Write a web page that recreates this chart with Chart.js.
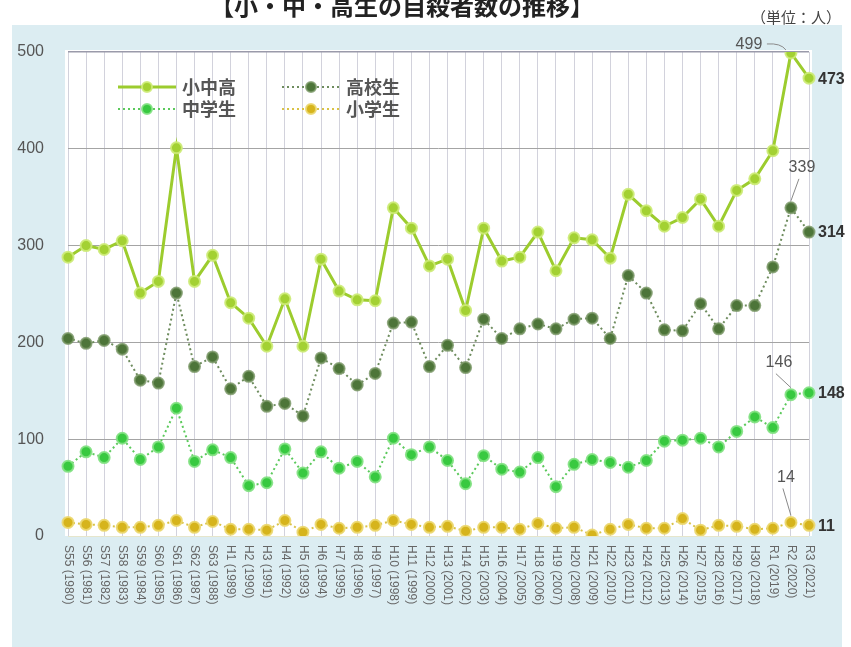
<!DOCTYPE html>
<html>
<head>
<meta charset="utf-8">
<script src="https://cdn.jsdelivr.net/npm/chart.js@4.4.1/dist/chart.umd.min.js"></script>
<style>
  html, body { margin: 0; padding: 0; background: #fff; }
  #wrap { position: relative; width: 851px; height: 647px; }
</style>
</head>
<body>
<div id="wrap"><canvas id="suicideChart" width="851" height="647"></canvas></div>
<script>
// 年度ラベル
const years = [
    'S55 (1980)', 'S56 (1981)', 'S57 (1982)', 'S58 (1983)', 'S59 (1984)', 'S60 (1985)', 'S61 (1986)', 'S62 (1987)', 'S63 (1988)',
    'H1 (1989)', 'H2 (1990)', 'H3 (1991)', 'H4 (1992)', 'H5 (1993)', 'H6 (1994)', 'H7 (1995)', 'H8 (1996)', 'H9 (1997)', 'H10 (1998)',
    'H11 (1999)', 'H12 (2000)', 'H13 (2001)', 'H14 (2002)', 'H15 (2003)', 'H16 (2004)', 'H17 (2005)', 'H18 (2006)', 'H19 (2007)', 'H20 (2008)',
    'H21 (2009)', 'H22 (2010)', 'H23 (2011)', 'H24 (2012)', 'H25 (2013)', 'H26 (2014)', 'H27 (2015)', 'H28 (2016)', 'H29 (2017)', 'H30 (2018)',
    'R1 (2019)', 'R2 (2020)', 'R3 (2021)'
];

// 小中高 合計
const totalValues = [288, 300, 296, 305, 251, 263, 401, 263, 290, 241, 225, 196, 245, 196, 286, 253, 244, 243, 339,
    318, 279, 286, 233, 318, 284, 288, 314, 274, 308, 306, 287, 353, 336, 320, 329, 348, 320, 357, 369, 398, 499, 473];
// 高校生
const highValues = [204, 199, 202, 193, 161, 158, 251, 175, 185, 152, 165, 134, 137, 124, 184, 173, 156, 168, 220,
    221, 175, 197, 174, 224, 204, 214, 219, 214, 224, 225, 204, 269, 251, 213, 212, 240, 214, 238, 238, 278, 339, 314];
// 中学生
const juniorValues = [72, 87, 81, 101, 79, 92, 132, 77, 89, 81, 52, 55, 90, 65, 87, 70, 77, 61, 101,
    84, 92, 78, 54, 83, 69, 66, 81, 51, 74, 79, 76, 71, 78, 98, 99, 101, 92, 108, 123, 112, 146, 148];
// 小学生
const elemValues = [14, 12, 11, 9, 9, 11, 16, 9, 15, 7, 7, 6, 16, 4, 12, 8, 9, 11, 16,
    12, 9, 10, 5, 9, 9, 7, 13, 8, 9, 1, 7, 12, 8, 8, 18, 6, 11, 10, 7, 8, 14, 11];

const yTicks = [0, 100, 200, 300, 400, 500];

const latin = '"Liberation Sans", Arial, sans-serif';
const cjk = '"Noto Sans CJK JP", sans-serif';

// 背景・タイトル・凡例・ラベル
const decorPlugin = {
    id: 'decor',
    beforeDraw(chart) {
        const { ctx, chartArea } = chart;
        ctx.save();
        ctx.fillStyle = '#dcedf2';
        ctx.fillRect(12, 25, 830, 622);
        ctx.fillStyle = '#ffffff';
        ctx.fillRect(chartArea.left - 3, chartArea.top - 2, chartArea.right - chartArea.left + 6, chartArea.bottom - chartArea.top + 2);
        ctx.restore();
    },
    afterDraw(chart) {
        const { ctx } = chart;
        const xScale = chart.scales.x;
        ctx.save();

        // title
        ctx.fillStyle = '#222';
        ctx.font = 'bold 24px ' + cjk;
        ctx.textAlign = 'center';
        ctx.textBaseline = 'middle';
        ctx.fillText('【小・中・高生の自殺者数の推移】', 402, 6);
        ctx.font = '15px ' + cjk;
        ctx.fillStyle = '#444';
        ctx.fillText('（単位：人）', 796, 17);

        // x labels, rotated clockwise
        ctx.font = '12px ' + latin;
        ctx.fillStyle = '#666';
        ctx.textAlign = 'left';
        years.forEach((lab, i) => {
            const x = xScale.getPixelForTick(i);
            ctx.save();
            ctx.translate(x, 545);
            ctx.rotate(Math.PI / 2);
            ctx.fillText(lab, 0, 0);
            ctx.restore();
        });

        // legend
        const items = [
            { ds: 0, text: '小中高', x: 118, y: 87 },
            { ds: 1, text: '高校生', x: 282, y: 87 },
            { ds: 2, text: '中学生', x: 118, y: 109 },
            { ds: 3, text: '小学生', x: 282, y: 109 }
        ];
        items.forEach(it => {
            const d = chart.data.datasets[it.ds];
            ctx.save();
            ctx.strokeStyle = d.borderColor;
            ctx.lineWidth = d.borderWidth;
            ctx.setLineDash(d.borderDash || []);
            ctx.beginPath();
            ctx.moveTo(it.x, it.y);
            ctx.lineTo(it.x + 58, it.y);
            ctx.stroke();
            ctx.setLineDash([]);
            ctx.beginPath();
            ctx.arc(it.x + 29, it.y, 5, 0, Math.PI * 2);
            ctx.fillStyle = d.pointBackgroundColor;
            ctx.fill();
            ctx.strokeStyle = d.pointBorderColor;
            ctx.lineWidth = 2;
            ctx.stroke();
            ctx.restore();
            ctx.font = 'bold 18px ' + cjk;
            ctx.fillStyle = '#555';
            ctx.textBaseline = 'middle';
            ctx.fillText(it.text, it.x + 64, it.y);
        });

        // value labels for R2 / R3
        const last = years.length - 1;
        const prev = last - 1;
        const callouts = [
            { ds: 0, dx: -42, dy: -8 },
            { ds: 1, dx: 11, dy: -40 },
            { ds: 2, dx: -12, dy: -32 },
            { ds: 3, dx: -5, dy: -45 }
        ];
        ctx.font = '16px ' + latin;
        ctx.textAlign = 'center';
        ctx.textBaseline = 'middle';
        callouts.forEach(c => {
            const pt = chart.getDatasetMeta(c.ds).data[prev];
            const tx = pt.x + c.dx, ty = pt.y + c.dy;
            ctx.fillStyle = '#555';
            ctx.fillText(String(chart.data.datasets[c.ds].data[prev]), tx, ty);
            ctx.strokeStyle = '#8a8a8a';
            ctx.lineWidth = 1;
            ctx.beginPath();
            if (c.ds === 0) {
                ctx.moveTo(tx + 18, ty - 1);
                ctx.quadraticCurveTo(pt.x - 10, ty - 2, pt.x - 5, pt.y - 3);
            } else {
                ctx.moveTo(tx - 3, ty + 11);
                ctx.lineTo(pt.x, pt.y - 7);
            }
            ctx.stroke();
        });
        ctx.font = 'bold 16px ' + latin;
        ctx.textAlign = 'left';
        ctx.fillStyle = '#333';
        [0, 1, 2, 3].forEach(ds => {
            const pt = chart.getDatasetMeta(ds).data[last];
            ctx.fillText(String(chart.data.datasets[ds].data[last]), pt.x + 9, pt.y + 1);
        });

        ctx.restore();
    }
};

new Chart(document.getElementById('suicideChart').getContext('2d'), {
    type: 'line',
    data: {
        labels: years,
        datasets: [
            {
                label: '小中高',
                data: totalValues,
                borderColor: '#9ccc2e',
                borderWidth: 3,
                pointBackgroundColor: '#a3d133',
                pointBorderColor: 'rgba(205,235,120,0.9)',
                pointBorderWidth: 2,
                pointRadius: 5.5,
                tension: 0
            },
            {
                label: '高校生',
                data: highValues,
                borderColor: '#6e8c5e',
                borderWidth: 2,
                borderDash: [2, 3],
                pointBackgroundColor: '#4d7539',
                pointBorderColor: 'rgba(120,150,100,0.8)',
                pointBorderWidth: 2,
                pointRadius: 5.5,
                tension: 0
            },
            {
                label: '中学生',
                data: juniorValues,
                borderColor: '#5bc95b',
                borderWidth: 2,
                borderDash: [2, 3],
                pointBackgroundColor: '#38c940',
                pointBorderColor: 'rgba(130,225,130,0.9)',
                pointBorderWidth: 2,
                pointRadius: 5.5,
                tension: 0
            },
            {
                label: '小学生',
                data: elemValues,
                borderColor: '#d9c246',
                borderWidth: 2,
                borderDash: [2, 3],
                pointBackgroundColor: '#d6b41c',
                pointBorderColor: 'rgba(235,215,110,0.9)',
                pointBorderWidth: 2,
                pointRadius: 5.5,
                tension: 0
            }
        ]
    },
    options: {
        responsive: false,
        animation: false,
        layout: { padding: { left: 0, right: 42, top: 52, bottom: 111 } },
        plugins: {
            legend: { display: false },
            tooltip: { enabled: false }
        },
        scales: {
            x: {
                type: 'category',
                offset: false,
                grid: { color: '#d2d2dc', lineWidth: 1, drawTicks: false },
                border: { display: false },
                ticks: { display: false }
            },
            y: {
                min: 0,
                max: 500,
                afterFit: (scale) => { scale.width = 68; },
                afterBuildTicks: (scale) => { scale.ticks = yTicks.map(v => ({ value: v })); },
                grid: {
                    drawTicks: false,
                    color: (c) => c.tick && c.tick.value === 0 ? '#e6e6cc' : (c.tick && c.tick.value === 500 ? '#9a9aaa' : '#a4a4a4'),
                    lineWidth: (c) => c.tick && c.tick.value === 500 ? 1.5 : 1
                },
                border: { display: false },
                ticks: {
                    padding: 24,
                    color: '#555',
                    font: { family: latin, size: 16 }
                }
            }
        }
    },
    plugins: [decorPlugin]
});
</script>
</body>
</html>
